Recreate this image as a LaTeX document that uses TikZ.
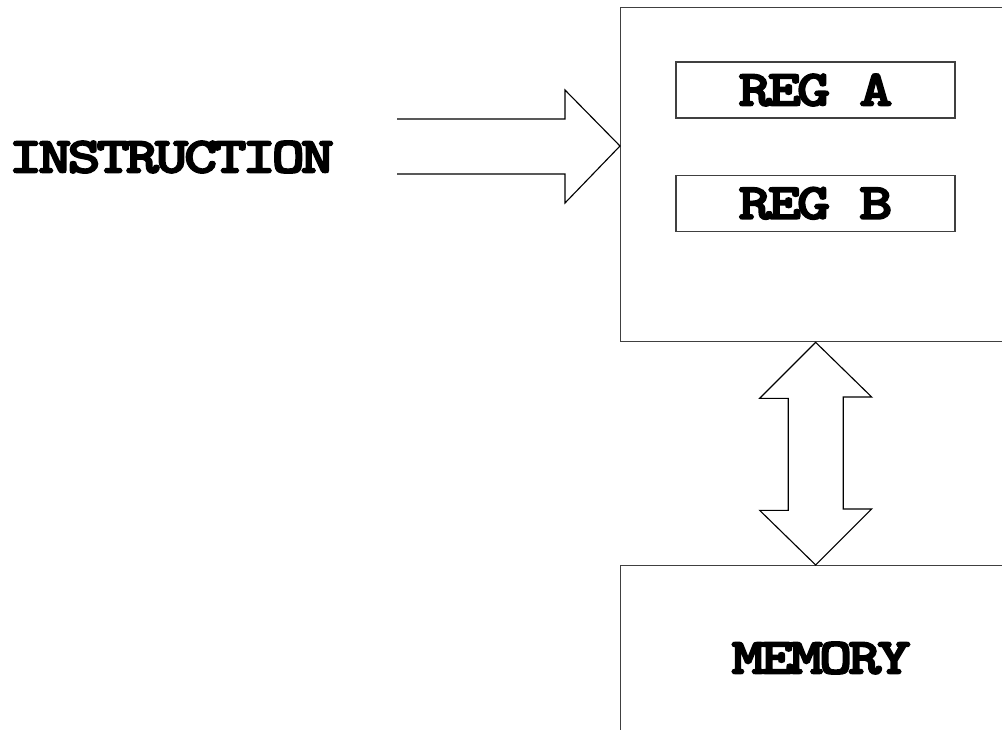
\documentclass[tikz,border=0pt]{standalone}
\usepackage{fontspec}
\newfontfamily\boxfont{lmmonolt10-bold.otf}[FakeStretch=1.25, LetterSpace=-8, FakeBold=3.5]
\usetikzlibrary{positioning}

\begin{document}
\begin{tikzpicture}[
        x=0.025cm, y=-0.025cm,
        unit/.style={rectangle, draw=black!75, line width=0.9pt, anchor=north west, minimum width=9.75cm, inner sep=0pt},
        reg/.style={rectangle, draw=black!75, line width=0.9pt, minimum width=6.975cm, minimum height=1.4cm, inner sep=0pt, font=\boxfont\fontsize{36}{36}\selectfont},
        label/.style={inner sep=0pt, font=\boxfont\fontsize{36}{36}\selectfont},
        bigarrow/.style={draw=black, line width=0.8pt, line join=miter}
    ]
        \path[use as bounding box, clip] (0,0) rectangle (1002,730);

        % processor and memory
        \node[unit, minimum height=8.35cm] (cpu) at (620,7) {};
        \node[unit, minimum height=5cm] (mem) at (620,565) {};
        \node[reg] (rega) at (815.5,90) {REG A};
        \node[reg, below=1.4cm of rega] (regb) {REG B};
        \node[label] (memtext) at (821,658) {MEMORY};
        \node[label] (instr) at (171.5,157) {INSTRUCTION};

        % instruction arrow into the processor
        \coordinate (tip) at (cpu.west |- 0,146);
        \draw[bigarrow] (397,119) -- (565,119) -- (565,90) -- (tip) -- (565,203) -- (565,174) -- (397,174);

        % bus between processor and memory
        \draw[bigarrow] (cpu.south) -- ++(-56,56) -- ++(28.5,0) -- ++(0,112) -- ++(-28.5,0) -- (mem.north)
            -- ++(56,-56) -- ++(-28.5,0) -- ++(0,-112) -- ++(28.5,0) -- cycle;
    \end{tikzpicture}
\end{document}
